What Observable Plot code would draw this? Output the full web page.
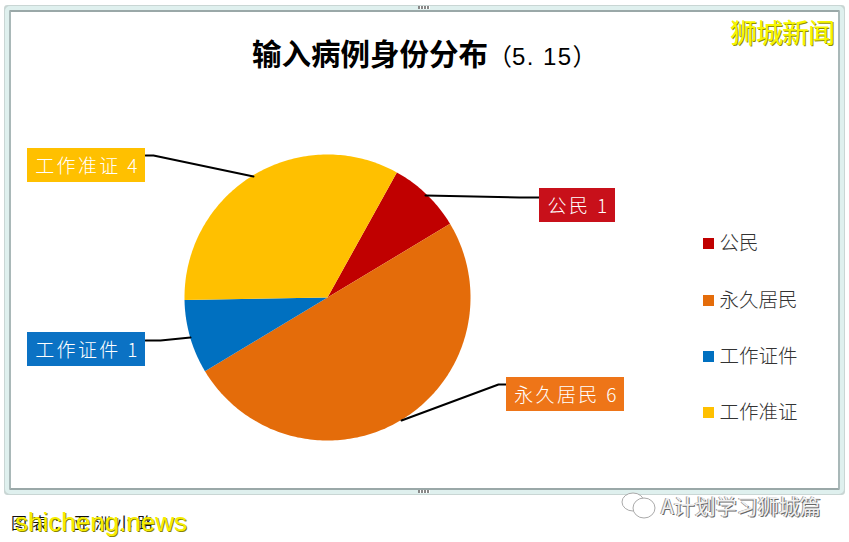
<!DOCTYPE html>
<html lang="zh">
<head>
<meta charset="utf-8">
<script src="https://cdn.jsdelivr.net/npm/d3@7"></script>
<script src="https://cdn.jsdelivr.net/npm/@observablehq/plot@0.6"></script>
<style>
html,body{margin:0;padding:0;background:#fff;}
body{position:relative;width:849px;height:542px;overflow:hidden;font-family:"Noto Sans CJK SC","Liberation Sans",sans-serif;}
#frame{position:absolute;left:9px;top:10px;width:827px;height:476px;border:2px solid #9aa8a8;border-left-color:#a9b8b8;border-right-color:#a9b8b8;outline:4px solid #dff0ee;outline-offset:0;box-shadow:0 0 0 5px #c9d6d4;border-radius:1px;}
.handle{position:absolute;width:12px;height:3px;background:repeating-linear-gradient(90deg,#888 0 2px,#fff 2px 3px);}
#title{position:relative;height:85px;box-sizing:border-box;padding:35px 0 0 252px;line-height:34px;white-space:nowrap;color:#000;}
#title b{font-size:29.5px;font-weight:700;}
#title span{font-size:24px;font-weight:400;font-family:"Liberation Sans","Noto Sans CJK SC",sans-serif;letter-spacing:1.4px;}
#title i{font-style:normal;font-size:24px;font-weight:400;}
#chart{position:relative;height:405px;}
#chart svg{display:block;background:transparent;}
.labels text{letter-spacing:2.4px;}
#caption{position:relative;height:52px;}
#source{position:absolute;left:11px;top:22px;font-size:16px;line-height:20px;color:#111;letter-spacing:5px;white-space:nowrap;}
#brand{position:absolute;left:15px;top:15px;font-size:26px;line-height:34px;font-family:"Liberation Sans",sans-serif;color:#f7ee00;text-shadow:1px 1px 0 #8a8600;white-space:nowrap;}
#mark{position:absolute;left:730px;top:14px;font-size:27px;line-height:36px;font-weight:400;color:#f7f700;text-shadow:1px 1px 0 #8f8f00;letter-spacing:-1px;white-space:nowrap;}
#wechat{position:absolute;left:661px;top:490px;font-size:21px;line-height:30px;color:#f0f0f0;text-shadow:1px 1px 0 #666,-1px 0 0 #999;white-space:nowrap;}
#wicon{position:absolute;left:620px;top:491px;}
</style>
</head>
<body>
<div id="frame"></div>
<div class="handle" style="left:418px;top:6px"></div>
<div class="handle" style="left:418px;top:490px"></div>
<div id="title"><b>输入病例身份分布</b><i>（</i><span>5. 15</span><i>）</i></div>
<div id="mark">狮城新闻</div>
<div id="chart"></div>
<div id="caption"><div id="source">图表：亚洲小路</div><div id="brand">shicheng.news</div></div>
<svg id="wicon" width="40" height="30" viewBox="0 0 40 30" fill="#fff" stroke="#aaa"><ellipse cx="13" cy="11" rx="11" ry="9"/><ellipse cx="24" cy="17" rx="11" ry="10"/></svg>
<div id="wechat">A计划学习狮城篇</div>
<script>
// Data
const categories = ["公民", "永久居民", "工作证件", "工作准证"];
const counts = [1, 6, 1, 4];
const colors = ["#C00000", "#E46C0A", "#0070C0", "#FFC000"];
const labelColors = ["#C8101A", "#EE7518", "#0B72C4", "#FFC000"];

// Layout (page pixels)
const pieCenter = [327, 297], pieRadius = 143, pieStart = 29 * Math.PI / 180;
const boxLeft = [539, 506, 27, 27], boxRight = [615, 624, 145, 145];
const boxTop = [188, 377, 332, 148], boxBottom = [222, 411, 366, 182];
const leaders = [
  [[425, 195], [519, 197], [539, 197]],
  [[401, 420], [498, 384], [506, 384]],
  [[190, 337], [160, 340], [145, 340]],
  [[253, 176], [153, 155], [145, 155]]
];
const legendX = 708, legendTextX = 719, legendY = [243, 300, 356, 412];

const rows = categories.map((name, i) => ({name, count: counts[i], i}));
const arcs = d3.pie().value(d => d.count).sort(null)
  .startAngle(pieStart).endAngle(pieStart + 2 * Math.PI)(rows);

// A wedge outline in page units, derived from the pie layout's angles
const wedges = arcs.flatMap(a => {
  const steps = Math.ceil((a.endAngle - a.startAngle) / (Math.PI / 180));
  const pt = (t, r) => ({
    name: a.data.name,
    x: pieCenter[0] + r * Math.sin(t),
    y: pieCenter[1] - r * Math.cos(t)
  });
  const pts = [pt(0, 0)];
  for (let k = 0; k <= steps; ++k) pts.push(pt(a.startAngle + (a.endAngle - a.startAngle) * k / steps, pieRadius));
  return pts;
});
const leaderPts = leaders.flatMap((pts, i) => pts.map(([x, y]) => ({i, x, y})));

const chart = Plot.plot({
  width: 849,
  height: 405,
  margin: 0,
  x: {domain: [0, 849], range: [0, 849], axis: null},
  y: {domain: [85, 490], range: [0, 405], axis: null},
  color: {domain: categories, range: colors},
  style: {background: "transparent", fontFamily: '"Noto Sans CJK SC",sans-serif'},
  marks: [
    Plot.line(wedges, {x: "x", y: "y", z: "name", fill: "name", stroke: null, curve: "linear"}),
    Plot.line(leaderPts, {x: "x", y: "y", z: "i", stroke: "#000", strokeWidth: 2}),
    Plot.rect(rows, {
      x1: d => boxLeft[d.i], x2: d => boxRight[d.i],
      y1: d => boxTop[d.i], y2: d => boxBottom[d.i],
      fill: d => labelColors[d.i]
    }),
    Plot.text(rows, {
      x: d => (boxLeft[d.i] + boxRight[d.i]) / 2 + 1,
      y: d => (boxTop[d.i] + boxBottom[d.i]) / 2 + 1,
      text: d => `${d.name} ${d.count}`,
      fill: "#fff", fontSize: 19, fontWeight: 300, className: "labels"
    }),
    Plot.dot(rows, {
      x: () => legendX, y: d => legendY[d.i],
      symbol: "square", r: 6.2, fill: "name", stroke: null
    }),
    Plot.text(rows, {
      x: () => legendTextX, y: d => legendY[d.i],
      text: "name", textAnchor: "start", fill: "#333", fontSize: 19.5, fontWeight: 300
    })
  ]
});
document.getElementById("chart").append(chart);
</script>
</body>
</html>
